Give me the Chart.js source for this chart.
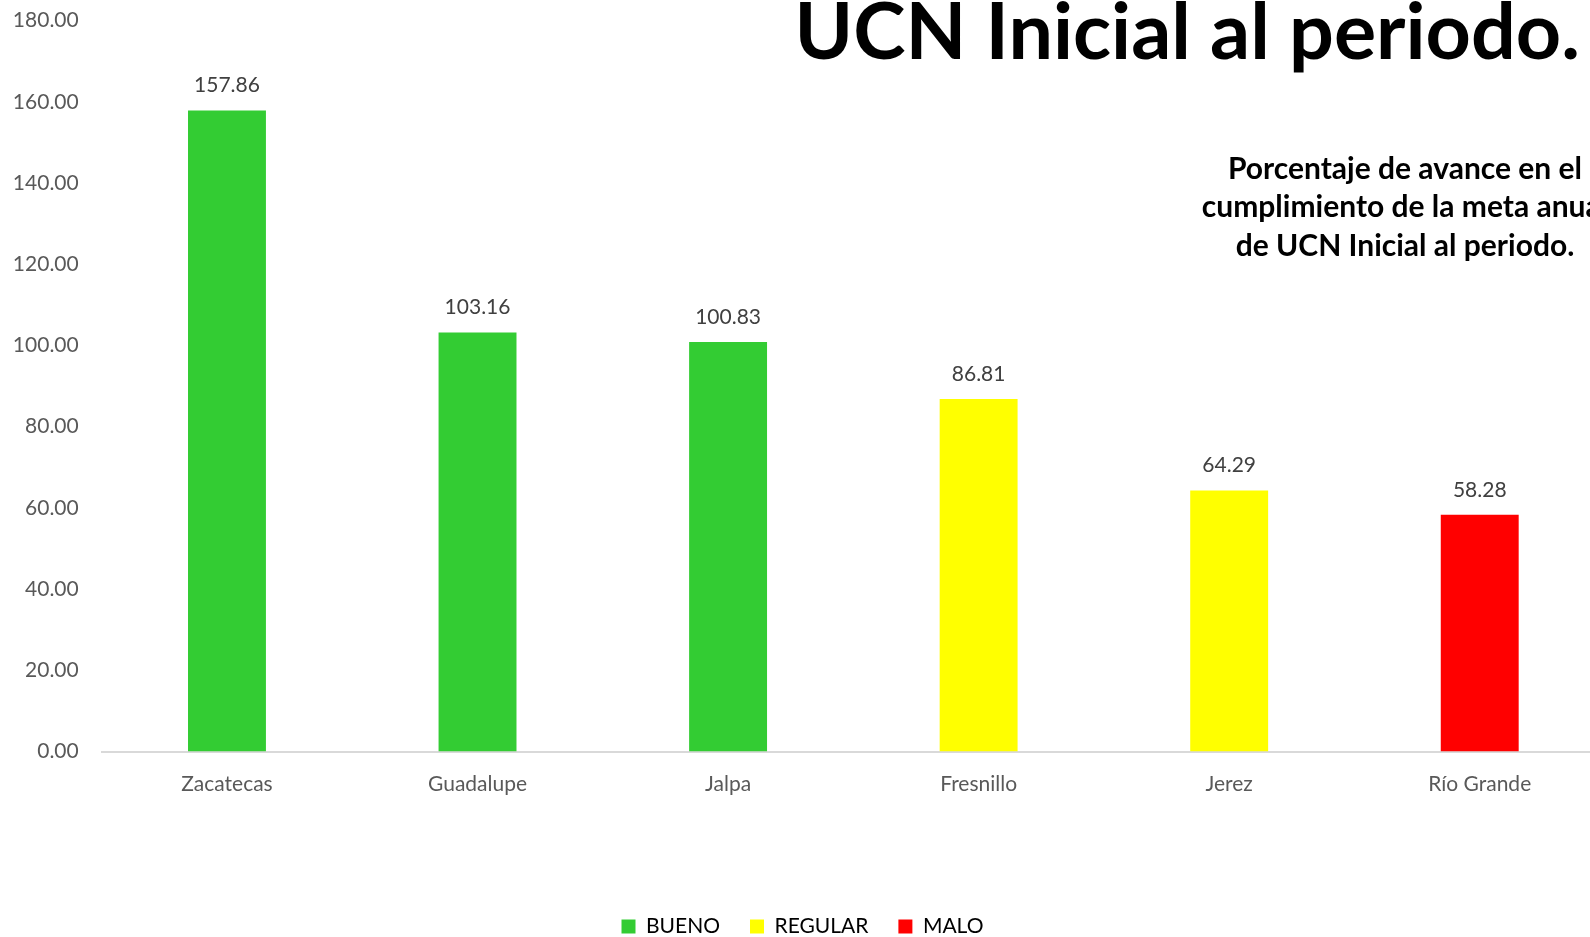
<!DOCTYPE html>
<html>
<head>
<meta charset="utf-8">
<script src="https://cdn.jsdelivr.net/npm/chart.js@4.4.1/dist/chart.umd.min.js"></script>
<style>
  html, body { margin: 0; padding: 0; overflow: hidden; background: #fff; }
  #wrap { position: relative; width: 1590px; height: 937px; overflow: hidden; }
  #lienzo { position: absolute; left: 0; top: -15px; width: 1605px; height: 962px; }
  #titulo {
    position: absolute; right: 10px; top: -11px;
    font: bold 79px Lato; line-height: 79px; color: #000; white-space: nowrap;
  }
  #subtitulo {
    position: absolute; left: 1105px; width: 600px; top: 147.5px;
    font: bold 30px Lato; line-height: 38.5px; color: #000;
    text-align: center; white-space: nowrap;
  }
</style>
</head>
<body>
<div id="wrap">
  <div id="lienzo"><canvas id="avanceChart"></canvas></div>
  <div id="titulo">UCN Inicial al periodo.</div>
  <div id="subtitulo">Porcentaje de avance en el<br>cumplimiento de la meta anual<br>de UCN Inicial al periodo.</div>
</div>
<script>
// Datos
const municipios = ["Zacatecas", "Guadalupe", "Jalpa", "Fresnillo", "Jerez", "Río Grande"];
const avance = [157.86, 103.16, 100.83, 86.81, 64.29, 58.28];
const nivel = ["BUENO", "BUENO", "BUENO", "REGULAR", "REGULAR", "MALO"];

// Categorias de la leyenda
const categorias = ["BUENO", "REGULAR", "MALO"];
const coloresCategoria = ["#33CC33", "#FFFF00", "#FF0000"];

// Eje Y
const yMin = 0;
const yMax = 180;
const yPaso = 20;

Chart.defaults.font.family = "Lato";

// Color de cada barra segun su nivel
const coloresBarras = nivel.map(n => coloresCategoria[categorias.indexOf(n)]);

// Etiquetas de valor arriba de cada barra
const etiquetasValor = {
  id: "etiquetasValor",
  afterDatasetsDraw(chart) {
    const ctx = chart.ctx;
    const meta = chart.getDatasetMeta(0);
    ctx.save();
    ctx.font = "21px Lato";
    ctx.fillStyle = "#404040";
    ctx.textAlign = "center";
    ctx.textBaseline = "middle";
    meta.data.forEach((bar, i) => {
      ctx.fillText(avance[i].toFixed(2), bar.x, bar.y - 25);
    });
    ctx.restore();
  }
};

const ctx = document.getElementById("avanceChart").getContext("2d");
new Chart(ctx, {
  type: "bar",
  data: {
    labels: municipios,
    datasets: [
      {
        label: "Avance",
        data: avance,
        backgroundColor: coloresBarras,
        borderWidth: 0,
        categoryPercentage: 1,
        barPercentage: 0.311,
      },
    ],
  },
  options: {
    responsive: true,
    maintainAspectRatio: false,
    animation: false,
    layout: { padding: 0 },
    scales: {
      x: {
        grid: { display: false, drawTicks: false },
        border: { color: "#d9d9d9", width: 2 },
        ticks: { color: "#595959", font: { size: 21 }, padding: 20 },
        afterFit: (scale) => { scale.height = 134.5; },
      },
      y: {
        min: yMin,
        max: yMax,
        grid: { display: false, drawTicks: false },
        border: { display: false },
        ticks: {
          stepSize: yPaso,
          color: "#595959",
          font: { size: 21 },
          padding: 23,
          callback: (v) => v.toFixed(2),
        },
        afterFit: (scale) => { scale.width = 101.7; },
      },
    },
    plugins: {
      tooltip: { enabled: false },
      legend: {
        position: "bottom",
        labels: {
          boxWidth: 14,
          boxHeight: 14,
          padding: 30,
          color: "#595959",
          font: { size: 21 },
          generateLabels: () => categorias.map((c, i) => ({
            text: c,
            fillStyle: coloresCategoria[i],
            strokeStyle: coloresCategoria[i],
            lineWidth: 0,
            hidden: false,
            datasetIndex: 0,
          })),
        },
      },
    },
  },
  plugins: [etiquetasValor],
});
</script>
</body>
</html>
